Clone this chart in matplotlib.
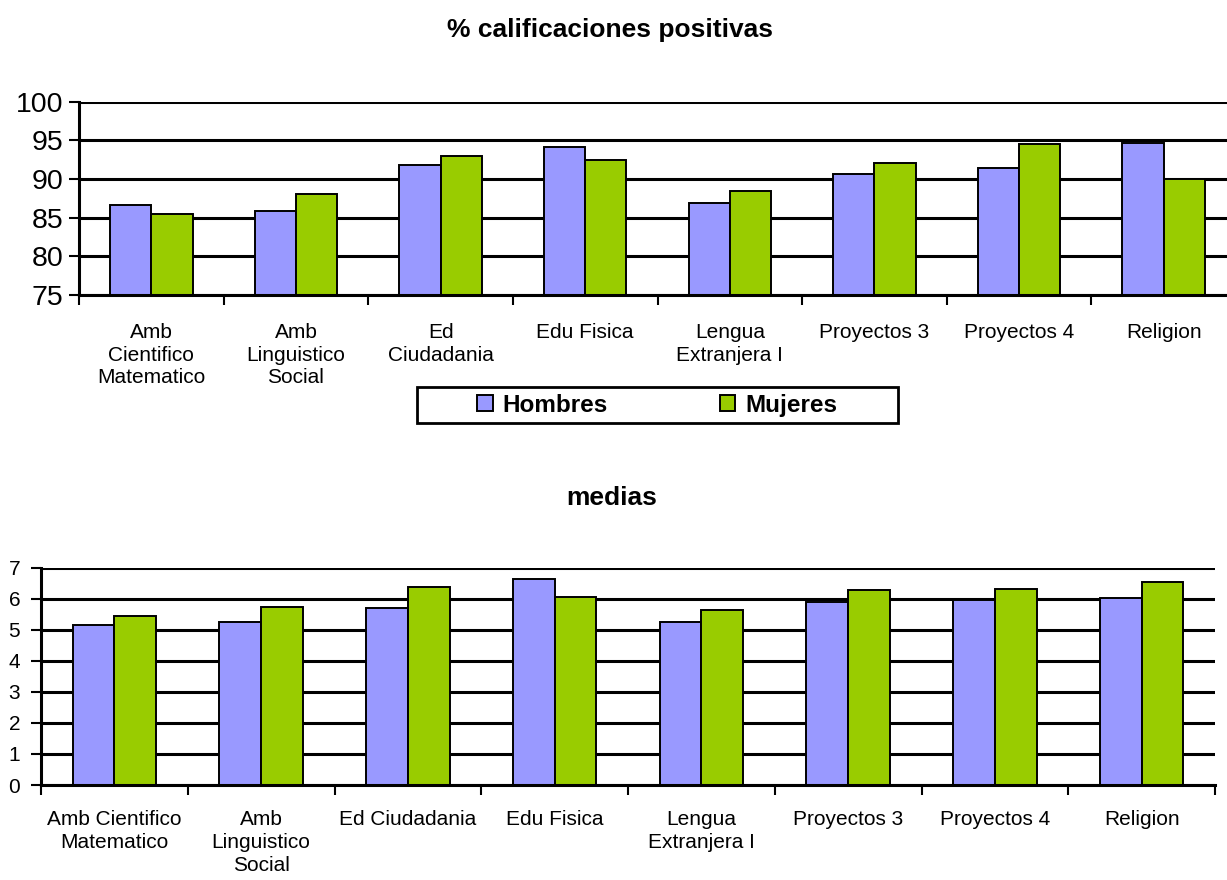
import matplotlib
matplotlib.use("Agg")
import matplotlib.pyplot as plt
from matplotlib.patches import Rectangle
import numpy as np

plt.rcParams['font.family'] = ['Liberation Sans', 'DejaVu Sans']

# data
labels_top = ["Amb\nCientifico\nMatematico", "Amb\nLinguistico\nSocial", "Ed\nCiudadania",
              "Edu Fisica", "Lengua\nExtranjera I", "Proyectos 3", "Proyectos 4", "Religion"]
labels_bot = ["Amb Cientifico\nMatematico", "Amb\nLinguistico\nSocial", "Ed Ciudadania",
              "Edu Fisica", "Lengua\nExtranjera I", "Proyectos 3", "Proyectos 4", "Religion"]

pos_hombres = [86.6, 85.8, 91.8, 94.1, 86.9, 90.7, 91.4, 94.7]
pos_mujeres = [85.5, 88.0, 93.0, 92.5, 88.5, 92.0, 94.5, 90.0]

med_hombres = [5.14, 5.25, 5.71, 6.63, 5.24, 5.91, 5.95, 6.03]
med_mujeres = [5.43, 5.75, 6.38, 6.05, 5.63, 6.28, 6.30, 6.53]

c_h = "#9999FF"
c_m = "#99CC00"
w = 0.285

W, H = 1227, 880
fig = plt.figure(figsize=(W/100, H/100), dpi=100)


def draw(ax, hom, muj, labels, ylim, yticks, ysize, ypad, xpad):
    x = np.arange(len(labels))
    ax.bar(x - w/2, hom, w, bottom=0, color=c_h, edgecolor="black", linewidth=1.4, label="Hombres")
    ax.bar(x + w/2, muj, w, bottom=0, color=c_m, edgecolor="black", linewidth=1.4, label="Mujeres")
    ax.set_xlim(-0.5, len(labels) - 0.5)
    ax.set_ylim(*ylim)
    ax.set_yticks(yticks)
    ax.tick_params(axis="y", labelsize=ysize, length=7, width=1.5, pad=ypad)
    # ticks sit between categories, labels at the centres
    ax.set_xticks(np.arange(len(labels) + 1) - 0.5)
    ax.set_xticklabels([])
    ax.set_xticks(x, minor=True)
    ax.set_xticklabels(labels, minor=True, fontsize=15, linespacing=1.25)
    ax.tick_params(axis="x", which="major", length=7, width=1.5)
    ax.tick_params(axis="x", which="minor", length=0, pad=xpad)
    ax.yaxis.grid(True, color="black", linewidth=2.2)
    ax.set_axisbelow(True)
    for s in ["top", "right"]:
        ax.spines[s].set_visible(False)
    for s in ["left", "bottom"]:
        ax.spines[s].set_linewidth(2.2)


# top chart: % positive grades (runs past the right edge, as in the reference)
ax1 = fig.add_axes([79/W, 1 - 295/H, (1236 - 79)/W, (295 - 101.6)/H])
draw(ax1, pos_hombres, pos_mujeres, labels_top, (75, 100), [75, 80, 85, 90, 95, 100], 20.5, 4, 20)
fig.text(610/W, 1 - 30/H, "% calificaciones positivas", ha="center", va="center",
         fontsize=19, fontweight="bold")

# legend with its own box
fig.patches.append(Rectangle((417/W, 1 - 423/H), (898 - 417)/W, 36/H, transform=fig.transFigure,
                             facecolor="white", edgecolor="black", linewidth=2))
fig.legend(*ax1.get_legend_handles_labels(), loc="center", ncol=2,
           bbox_to_anchor=(657/W, 1 - 405/H), frameon=False,
           prop={"size": 17.5, "weight": "bold"}, handlelength=0.65, handleheight=0.65,
           handletextpad=0.4, columnspacing=4.6, borderpad=0, borderaxespad=0)

# bottom chart: averages
ax2 = fig.add_axes([41/W, 1 - 785/H, (1215 - 41)/W, (785 - 567.7)/H])
draw(ax2, med_hombres, med_mujeres, labels_bot, (0, 7), range(8), 15, 8, 18)
fig.text(612/W, 1 - 498/H, "medias", ha="center", va="center",
         fontsize=19, fontweight="bold")

fig.savefig("out.png", dpi=100)
